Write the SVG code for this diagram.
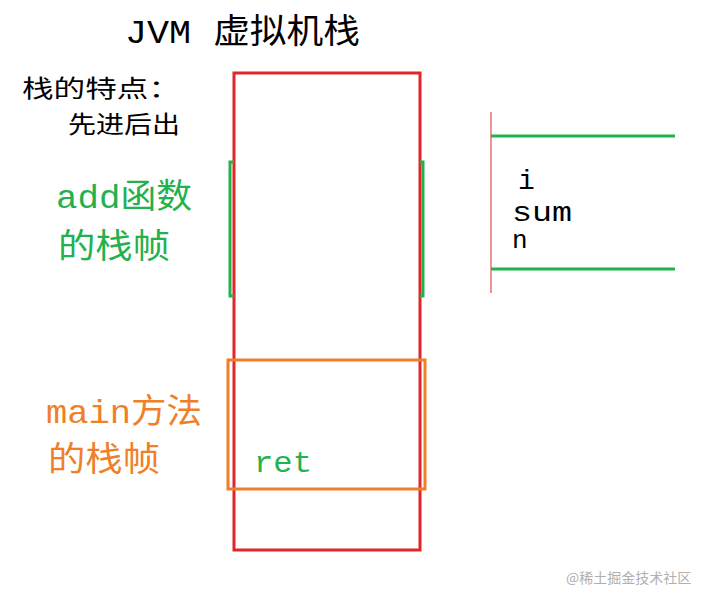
<svg xmlns="http://www.w3.org/2000/svg" width="703" height="593" viewBox="0 0 703 593">
<style>
.t{font-family:"Liberation Mono","Noto Sans CJK SC",monospace}
.k{fill:#000}
.g{fill:#22b14c}
.o{fill:#f07f2a}
</style>
<rect width="703" height="593" fill="#fff"/>
<g id="title"><text class="t k" x="125" y="43" font-size="34" textLength="235" lengthAdjust="spacingAndGlyphs">JVM 虚拟机栈</text></g>
<g id="note"><text class="t k" x="22" y="97" font-size="24" textLength="158" lengthAdjust="spacingAndGlyphs">栈的特点：</text><text class="t k" x="68" y="133" font-size="24" textLength="112" lengthAdjust="spacingAndGlyphs">先进后出</text></g>
<g id="stack"><rect x="234" y="73" width="186" height="477" fill="none" stroke="#e0262b" stroke-width="3"/></g>
<g id="add">
<path d="M234 162H230V296H234M420 162H423V296H420" fill="none" stroke="#22b14c" stroke-width="3"/>
<text class="t g" x="56" y="208" font-size="34" textLength="136" lengthAdjust="spacingAndGlyphs">add函数</text>
<text class="t g" x="58" y="258" font-size="34" textLength="112" lengthAdjust="spacingAndGlyphs">的栈帧</text>
</g>
<g id="main">
<rect x="228" y="360" width="197" height="129" fill="none" stroke="#f07f2a" stroke-width="3"/>
<text class="t o" x="46" y="423" font-size="34" textLength="156" lengthAdjust="spacingAndGlyphs">main方法</text>
<text class="t o" x="48" y="471" font-size="34" textLength="112" lengthAdjust="spacingAndGlyphs">的栈帧</text>
<text class="t g" x="254" y="472" font-size="30" textLength="58" lengthAdjust="spacingAndGlyphs">ret</text>
</g>
<g id="frame">
<line x1="491" y1="112" x2="491" y2="293" stroke="#e0262b" stroke-width="1"/>
<path d="M491 136H675M491 269H675" stroke="#22b14c" stroke-width="3"/>
<text class="t k" x="518" y="189" font-size="28">i</text>
<text class="t k" x="512" y="221" font-size="28" textLength="60" lengthAdjust="spacingAndGlyphs">sum</text>
<text class="t k" x="512" y="248" font-size="26">n</text>
</g>
<g id="connectors"></g>
<text x="566" y="583" font-family="'Noto Sans CJK SC',sans-serif" font-size="14" fill="#b0b0b0">@稀土掘金技术社区</text>
</svg>
